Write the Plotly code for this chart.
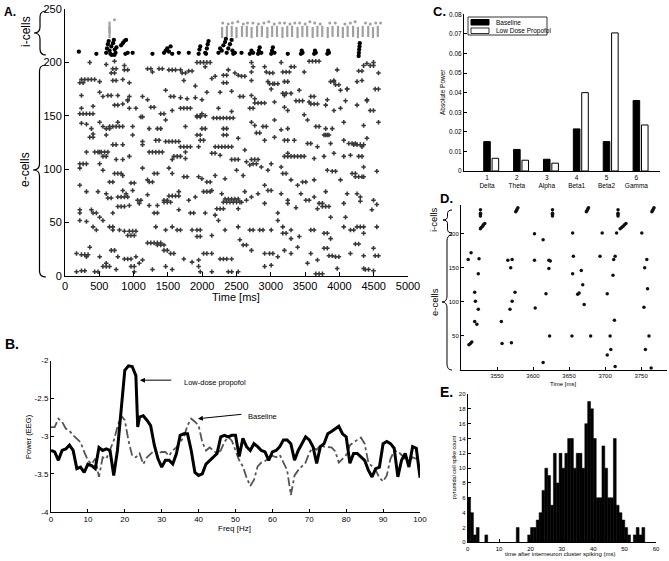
import plotly.graph_objects as go

W, H = 669, 561
def px(x): return x / W
def py(y): return 1 - y / H

FONT = "Liberation Sans"

# ---------------- Panel A data ----------------
# each row: [cell index, spike times (ms)...]
e_runs = [
    [200, 361], [198, 601], [201, 722], [194, 697, 745], [190, 674, 722], [197, 866], [193, 866, 914],
    [200, 1924, 1972, 2020, 2068, 2116], [193, 1684], [190, 1708, 1756], [194, 1203, 1251], [191, 1275],
    [194, 1371, 1419], [193, 1515], [193, 1563, 1611], [192, 1804, 1852], [196, 2044], [187, 2189],
    [188, 2309, 2357], [193, 2381], [190, 2477], [187, 2573, 2621], [200, 2718], [196, 2742], [191, 2718],
    [196, 2910], [191, 2934], [190, 2982, 3030], [200, 3151], [191, 3175], [191, 3223, 3271], [196, 3295, 3343],
    [191, 3487], [201, 3559, 3607, 3655, 3703], [193, 3968], [192, 4281, 4329], [197, 4353], [199, 4401],
    [197, 4449, 4497], [200, 4497], [190, 4570],
    [184, 240, 288, 336, 384, 432], [181, 216, 264], [182, 505], [183, 697, 745], [184, 842], [181, 938],
    [183, 1732], [178, 1900], [185, 2140], [181, 2309, 2357], [188, 2525], [183, 2718], [182, 2958],
    [180, 2982, 3030], [180, 3054, 3102], [182, 3199, 3247], [182, 3872, 3920], [183, 3920], [179, 3944, 3992],
    [175, 4113], [182, 4257], [183, 4329],
    [169, 240], [172, 505], [168, 553], [169, 625, 673], [169, 770], [165, 914], [168, 938], [168, 1130],
    [165, 1203], [174, 1467], [168, 1539, 1587], [167, 1684], [166, 1780], [167, 1900], [165, 1996],
    [172, 2068], [172, 2261], [173, 2429], [168, 2549, 2597], [169, 2718], [166, 2766], [175, 3006],
    [171, 3175, 3223], [169, 3199], [171, 3295], [174, 3415], [168, 3583, 3631], [165, 3824], [174, 4016],
    [175, 4113], [165, 4401], [175, 4521, 4569],
    [157, 240], [159, 409], [160, 722, 770], [161, 842], [164, 914], [157, 938], [157, 1034], [149, 1130],
    [158, 1251, 1299], [152, 1395, 1443], [155, 1563], [157, 1684, 1732, 1780, 1828], [150, 1924, 1972],
    [152, 1996], [150, 2044], [154, 2429], [157, 2237], [157, 2694, 2742], [162, 2766, 2814, 2862, 2910],
    [163, 3054], [158, 3199], [155, 3247], [164, 3367, 3415, 3463], [163, 3559], [161, 3583, 3631, 3680],
    [160, 3800], [155, 3920], [157, 4016], [164, 4089], [160, 4257], [164, 4401], [155, 4449, 4497],
    [152, 216, 264, 312, 360, 408], [143, 240], [142, 313], [138, 385], [144, 505], [140, 553],
    [138, 601, 649], [140, 649, 697, 745, 793, 841], [144, 770], [140, 986], [149, 1106], [138, 1227],
    [138, 1347, 1395], [146, 1467], [140, 1756], [149, 1924, 1972], [148, 2164, 2212, 2260, 2308, 2356, 2404, 2452],
    [138, 1996, 2044], [138, 2309, 2357], [132, 2309, 2357], [144, 2718], [141, 2766], [140, 2886, 2934],
    [146, 3054], [137, 3151], [138, 3247], [151, 3487], [146, 3535], [140, 3656, 3704], [138, 3800],
    [132, 3800, 3848], [138, 3896], [144, 4064], [141, 4353], [144, 4570],
    [130, 361, 409], [133, 409], [116, 505], [132, 601], [123, 697, 745], [123, 842], [132, 986], [123, 1130],
    [126, 1130], [127, 1323, 1371], [126, 1467, 1515, 1563, 1611, 1659], [121, 1684, 1732, 1780, 1828],
    [116, 1756], [132, 1924, 1972], [127, 1972, 2020], [121, 2189, 2237, 2285, 2333, 2381, 2429], [113, 2261],
    [129, 2525], [118, 2621], [134, 2790, 2838], [127, 2910], [130, 3054], [127, 3199, 3247], [127, 3343],
    [124, 3535, 3583], [121, 3680], [132, 3776, 3824], [124, 3872], [127, 4064], [124, 4137, 4185, 4233],
    [123, 4209, 4257, 4305, 4353], [121, 4329], [129, 4401],
    [116, 313], [116, 433, 481, 529, 577, 625], [112, 553], [112, 601], [109, 746], [109, 842], [112, 938],
    [116, 1227, 1275, 1323, 1371, 1419], [109, 1563], [112, 1587, 1635, 1683], [110, 1756], [121, 1948],
    [115, 2140, 2188], [109, 2429], [109, 2477, 2525], [107, 2645], [109, 2718, 2766], [109, 2814], [105, 3006],
    [112, 3199], [115, 3247], [112, 3247, 3295, 3343, 3391, 3439, 3487], [110, 3632], [112, 3776], [115, 3920],
    [112, 4064], [113, 4161], [112, 4281, 4329],
    [105, 216, 264, 312], [101, 216], [105, 505], [99, 553], [96, 722, 770, 818], [88, 649, 697], [94, 842],
    [87, 962, 1010], [101, 1130], [90, 1203], [96, 1299, 1347], [88, 1227, 1275], [101, 1515], [96, 1563],
    [93, 1732, 1780], [93, 1948], [91, 1996], [88, 2068, 2116], [94, 2189], [91, 2333], [99, 2501], [94, 2597],
    [104, 2694], [105, 2742, 2790], [102, 2862], [99, 2958], [102, 3151], [96, 3175, 3223], [90, 3295],
    [88, 3463, 3511], [90, 3632], [99, 3824], [98, 3896, 3944], [90, 4016], [96, 4185, 4233],
    [93, 4233, 4281, 4329], [102, 4353], [93, 4353], [98, 4545],
    [85, 216], [79, 313], [79, 481], [77, 601], [73, 625, 673], [74, 770, 818, 866, 914], [80, 842], [77, 890],
    [80, 986], [71, 1058, 1106], [76, 1203], [66, 1347], [71, 1443, 1491], [75, 1515, 1563, 1611, 1659],
    [79, 1659], [71, 1804], [74, 1900], [79, 2020, 2068, 2116], [80, 2140], [77, 2285],
    [72, 2333, 2381, 2429, 2477, 2525], [69, 2573], [79, 2621], [74, 2718], [77, 2814], [85, 2910],
    [80, 2958, 3006], [77, 3151], [71, 3247], [85, 3391], [77, 3439], [74, 3632], [68, 3704, 3752], [79, 3800],
    [77, 4113], [77, 4257], [74, 4305], [71, 4497],
    [62, 216], [59, 216], [62, 385], [59, 409, 457], [55, 505], [59, 697], [65, 770, 818, 866], [66, 938],
    [68, 1082], [66, 1227], [59, 1299, 1347], [69, 1443, 1491, 1539], [62, 1659], [59, 1828, 1876], [59, 2044],
    [57, 2189], [63, 2213, 2261, 2309], [69, 2309, 2357, 2405, 2453, 2501, 2549], [63, 2525], [71, 2645],
    [68, 2910], [59, 3102], [68, 3247], [64, 3367], [71, 3511, 3559], [63, 3680], [65, 3752, 3800, 3848],
    [55, 3872], [68, 4064], [55, 4089], [70, 4305], [62, 4473], [67, 4545],
    [52, 216], [51, 313], [46, 409], [43, 457], [52, 553], [46, 649, 697], [43, 697], [43, 794], [42, 866],
    [42, 938, 986, 1034], [38, 914, 962, 1010], [46, 1323], [43, 1467], [46, 1563], [43, 1635, 1683],
    [43, 1852], [43, 1924, 1972], [37, 1924, 1972], [38, 2140], [52, 2237], [43, 2333], [46, 2525], [34, 2549],
    [43, 2694, 2742], [43, 2838, 2886], [43, 3006], [52, 3102], [46, 3175], [40, 3175, 3223], [43, 3295],
    [35, 3295], [37, 3415], [43, 3583, 3631], [40, 3776, 3824], [35, 3872], [46, 4064], [43, 4161, 4209],
    [46, 4257, 4305, 4353], [40, 4353], [46, 4545],
    [21, 168], [20, 240, 288, 336], [18, 313], [27, 361], [18, 505], [12, 601], [24, 674, 722], [18, 770],
    [16, 866, 914, 962], [18, 1034], [15, 1130], [31, 1203, 1251, 1299, 1347, 1395], [29, 1347, 1395, 1443],
    [24, 1443, 1491], [21, 1539, 1587], [16, 1732], [13, 1852], [15, 1948], [21, 2020, 2068], [21, 2140],
    [16, 2261], [16, 2309, 2357], [16, 2429], [29, 2597, 2645], [24, 2718], [21, 2910], [21, 2982, 3030],
    [18, 3102], [24, 3199], [21, 3295], [27, 3391], [21, 3583], [15, 3680], [26, 3776, 3824], [19, 3848, 3896],
    [18, 3944, 3992], [21, 4161], [30, 4233, 4281], [19, 4353], [26, 4497], [19, 4521, 4569],
    [4, 168], [5, 240, 288], [4, 433, 481], [9, 553, 601, 649], [6, 746], [9, 962, 1010], [4, 1010], [12, 1082],
    [6, 1275], [9, 1467], [6, 1563], [9, 1948], [4, 1972], [4, 2140], [4, 2381, 2429], [4, 2525], [9, 2910],
    [10, 3006], [12, 3535], [2, 3656, 3704, 3752], [7, 3968], [7, 4353], [6, 4377, 4425], [5, 4497],
]

# interneuron (i-cell) spikes, black clusters: (time ms, cell)
i_black = [
    (202, 210), (457, 208), (600, 209), (612, 213), (625, 217), (637, 220), (650, 211), (662, 208), (675, 215),
    (680, 207), (700, 218), (712, 221), (720, 207), (725, 212), (737, 209), (750, 214),
    (818, 216), (842, 218), (866, 220), (880, 208), (890, 221), (914, 209),
    (986, 209), (1275, 208), (1443, 209), (1467, 211), (1491, 213), (1515, 210), (1539, 215), (1563, 208),
    (1659, 209), (1804, 209), (1948, 208), (1960, 212), (1972, 215), (2044, 209), (2056, 208), (2068, 213),
    (2080, 217), (2092, 220),
    (2237, 209), (2261, 213), (2285, 211), (2309, 216), (2333, 219), (2345, 222), (2357, 209), (2381, 213),
    (2405, 217), (2429, 221), (2441, 211), (2453, 208), (2477, 209),
    (2573, 209), (2694, 208), (2718, 211), (2742, 209), (2814, 208), (2826, 211), (2838, 214), (2862, 209),
    (3006, 208), (3018, 211), (3030, 214), (3054, 209), (3247, 208), (3439, 208), (3451, 211), (3463, 209),
    (3632, 208), (3644, 211), (3656, 209), (3824, 208), (3836, 211), (3848, 209),
    (4281, 206), (4284, 209), (4288, 212), (4293, 215), (4297, 218),
]
# interneuron grey streaks (time ms, centre cell)
i_gray = [
    (649, 228), (649, 233),
    (2290, 228), (2360, 229), (2430, 229), (2500, 228), (2580, 229), (2650, 229), (2720, 228), (2800, 229),
    (2870, 229), (2950, 228), (3020, 229), (3090, 229), (3170, 228), (3240, 229), (3310, 229), (3390, 228),
    (3460, 229), (3530, 229), (3610, 228), (3680, 229), (3750, 229), (3830, 228), (3900, 229), (3980, 229),
    (4050, 228), (4120, 229), (4200, 229), (4270, 228), (4340, 229), (4420, 229), (4490, 228), (4560, 229),
]
i_gray_top = [
    (722, 240), (2300, 237), (2380, 236), (2440, 237), (2520, 238), (2600, 236), (2660, 237), (2740, 237),
    (2820, 236), (2900, 237), (2970, 238), (3050, 236), (3130, 237), (3200, 237), (3280, 236), (3350, 237),
    (3420, 237), (3500, 236), (3570, 238), (3640, 237), (3720, 236), (3860, 237), (3940, 237), (4080, 236),
    (4160, 237), (4230, 238), (4380, 237), (4450, 236), (4530, 237), (4600, 237),
]

# ---------------- Panel B data ----------------
freq_prop = [0, 1, 2, 3, 4, 5, 6, 7, 8, 9, 10, 11, 12, 13, 14, 15, 16, 17, 18, 19, 20, 21, 22, 23, 23.5, 24,
             25, 26, 27, 28, 29, 30, 31, 32, 33, 34, 35, 36, 37, 38, 39, 40, 41, 42, 43, 44, 45, 46, 47, 48,
             49, 50, 51, 52, 53, 54, 55, 56, 57, 58, 59, 60, 61, 62, 63, 64, 65, 66, 67, 68, 69, 70, 71, 72,
             73, 74, 75, 76, 77, 78, 79, 80, 81, 82, 83, 84, 85, 86, 87, 88, 89, 90, 91, 92, 93, 94, 95, 96,
             97, 98, 99, 100]
power_prop = [-3.19, -3.21, -3.32, -3.19, -3.17, -3.12, -3.19, -3.43, -3.41, -3.48, -3.37, -3.39, -3.43, -3.15,
              -3.19, -3.17, -3.19, -3.52, -3.19, -2.62, -2.13, -2.07, -2.08, -2.2, -2.88, -2.75, -2.73, -2.79,
              -2.86, -3.12, -3.3, -3.41, -3.32, -3.32, -3.37, -3.23, -2.99, -2.97, -2.97, -3.19, -3.48, -3.52,
              -3.5, -3.37, -3.32, -3.28, -3.23, -3.01, -2.99, -3.01, -2.99, -2.99, -3.27, -3.03, -3.14, -3.19,
              -3.1, -3.14, -3.19, -3.21, -3.32, -3.21, -3.19, -3.14, -3.05, -3.05, -3.1, -3.32, -3.19, -3.1,
              -3.01, -3.05, -3.14, -3.36, -3.14, -3.1, -2.97, -2.94, -2.9, -2.87, -2.97, -3.01, -3.36, -3.23,
              -3.23, -3.27, -3.32, -3.45, -3.54, -3.43, -3.41, -3.1, -3.07, -3.1, -3.16, -3.54, -3.32, -3.23,
              -3.41, -3.14, -3.16, -3.55]
freq_base = [0, 1, 2, 3, 4, 5, 6, 7, 8, 9, 10, 11, 12, 13, 14, 15, 16, 17, 18, 19, 20, 21, 22, 23, 24, 25,
             26, 27, 28, 29, 30, 31, 32, 33, 34, 35, 36, 37, 38, 39, 40, 41, 42, 43, 44, 45, 46, 47, 48, 49,
             50, 51, 52, 53, 54, 55, 56, 57, 58, 59, 60, 61, 62, 63, 64, 65, 66, 67, 68, 69, 70, 71, 72, 73,
             74, 75, 76, 77, 78, 79, 80, 81, 82, 83, 84, 85, 86, 87, 88, 89, 90, 91, 92, 93, 94, 95, 96, 97,
             98, 99, 100]
power_base = [-2.88, -2.88, -2.77, -2.81, -2.9, -2.93, -2.99, -3.03, -3.08, -3.21, -3.32, -3.37, -3.3, -3.54,
              -3.28, -3.3, -3.19, -3.06, -2.88, -2.73, -2.79, -3.06, -3.26, -3.28, -3.23, -3.37, -3.28, -3.23,
              -3.19, -3.23, -3.21, -3.21, -3.26, -3.19, -3.15, -3.08, -3.01, -2.86, -2.77, -2.81, -2.86, -3.08,
              -3.19, -3.15, -3.19, -3.23, -3.19, -3.08, -3.01, -3.06, -3.19, -3.32, -3.4, -3.55, -3.66, -3.58,
              -3.4, -3.35, -3.33, -3.3, -3.26, -3.28, -3.25, -3.35, -3.45, -3.78, -3.52, -3.45, -3.4, -3.35,
              -3.22, -3.15, -3.18, -3.12, -3.14, -3.15, -3.15, -3.2, -3.35, -3.3, -3.25, -3.12, -3.08, -3.05,
              -3.02, -3.1, -3.35, -3.4, -3.45, -3.55, -3.6, -3.52, -3.3, -3.2, -3.2, -3.25, -3.3, -3.35, -3.28,
              -3.3, -3.3]

# ---------------- Panel C data ----------------
band_idx = [1, 2, 3, 4, 5, 6]
band_names = ["Delta", "Theta", "Alpha", "Beta1", "Beta2", "Gamma"]
power_baseline = [0.015, 0.011, 0.006, 0.0215, 0.015, 0.036]
power_propofol = [0.0065, 0.0055, 0.004, 0.040, 0.0705, 0.0235]

# ---------------- Panel D data ----------------
d_e_spikes = [
    (3511, 37), (3513, 39), (3515, 41), (3510, 162), (3514, 172), (3519, 114), (3520, 101), (3524, 89),
    (3525, 163), (3524, 141), (3519, 71), (3522, 67), (3556, 71), (3557, 39), (3565, 161), (3569, 150),
    (3571, 162), (3568, 89), (3571, 101), (3570, 40), (3575, 114), (3602, 200), (3602, 161), (3603, 91),
    (3614, 191), (3614, 11), (3618, 112), (3622, 161), (3624, 160), (3622, 149), (3623, 50), (3655, 201),
    (3656, 167), (3655, 141), (3654, 50), (3662, 111), (3664, 113), (3667, 146), (3669, 125), (3671, 96),
    (3680, 50), (3693, 167), (3696, 201), (3703, 112), (3703, 22), (3707, 50), (3708, 30), (3711, 139),
    (3712, 162), (3714, 167), (3713, 73), (3714, 5), (3716, 201), (3751, 201), (3755, 150), (3754, 92),
    (3756, 30), (3758, 162), (3759, 119), (3761, 50), (3764, 3),
]
d_i_spikes = [
    (3527, 207), (3528, 209), (3530, 211), (3531, 213), (3533, 215),
    (3721, 207), (3723, 209), (3725, 211), (3727, 213), (3729, 215),
    (3527, 226), (3527, 228), (3527, 230), (3527, 235),
    (3576, 232), (3577, 234), (3578, 236), (3579, 238),
    (3627, 226), (3627, 228), (3627, 230), (3627, 235),
    (3674, 232), (3675, 234), (3676, 236), (3677, 238),
    (3718, 226), (3718, 228), (3718, 230), (3718, 235),
    (3765, 232), (3766, 234), (3767, 236), (3768, 238),
]

# ---------------- Panel E data ----------------
e_bin_centre = [0.46, 1.37, 2.28, 3.19, 5.92, 15.93, 19.57, 20.48, 21.39, 22.3, 23.21, 24.12, 25.03, 25.94,
                26.85, 27.76, 28.67, 29.58, 30.49, 31.4, 32.31, 33.22, 34.13, 35.04, 35.95, 36.86, 37.77,
                38.68, 39.59, 40.5, 41.41, 42.32, 43.23, 44.14, 45.05, 45.96, 46.87, 47.78, 48.69, 49.6,
                50.51, 51.42, 53.24, 54.15, 55.06, 55.97]
e_counts = [6, 4, 1, 2, 1, 2, 1, 2, 2, 3, 4, 7, 10, 9, 5, 12, 8, 12, 10, 12, 14, 14, 10, 12, 12, 10, 16,
            19, 18, 14, 6, 6, 13, 10, 6, 6, 14, 5, 4, 3, 2, 1, 1, 2, 1, 2]
E_BIN_WIDTH = 0.91

# ---------------- Build figure ----------------
e_t, e_c = [], []
for row in e_runs:
    for t in row[1:]:
        e_t.append(t)
        e_c.append(row[0])

fig = go.Figure()

# Panel A
fig.add_trace(go.Scatter(x=e_t, y=e_c, mode="markers", xaxis="x", yaxis="y", cliponaxis=False,
                         marker=dict(symbol="cross", size=3.8, color="#383838", line=dict(width=0))))
fig.add_trace(go.Scatter(x=[p[0] for p in i_gray], y=[p[1] for p in i_gray], mode="markers",
                         xaxis="x", yaxis="y", cliponaxis=False,
                         marker=dict(symbol="line-ns", size=8, line=dict(width=2.2, color="#a0a0a0"))))
fig.add_trace(go.Scatter(x=[p[0] for p in i_gray_top], y=[p[1] for p in i_gray_top], mode="markers",
                         xaxis="x", yaxis="y", cliponaxis=False,
                         marker=dict(symbol="circle", size=3, color="#a0a0a0")))
fig.add_trace(go.Scatter(x=[p[0] for p in i_black], y=[p[1] for p in i_black], mode="markers",
                         xaxis="x", yaxis="y", cliponaxis=False,
                         marker=dict(symbol="circle", size=4.3, color="#000000")))

# Panel B
fig.add_trace(go.Scatter(x=freq_base, y=power_base, mode="lines", xaxis="x2", yaxis="y2",
                         line=dict(color="#555555", width=1.8, dash="dashdot")))
fig.add_trace(go.Scatter(x=freq_prop, y=power_prop, mode="lines", xaxis="x2", yaxis="y2",
                         line=dict(color="#000000", width=3)))

# Panel C
fig.add_trace(go.Bar(x=band_idx, y=power_baseline, xaxis="x3", yaxis="y3", width=0.22, offset=-0.11,
                     marker=dict(color="#000000", line=dict(color="#000000", width=1)), name="Baseline"))
fig.add_trace(go.Bar(x=band_idx, y=power_propofol, xaxis="x3", yaxis="y3", width=0.22, offset=0.17,
                     marker=dict(color="#ffffff", line=dict(color="#000000", width=1)), name="Low Dose Propofol"))

# Panel D
fig.add_trace(go.Scatter(x=[p[0] for p in d_e_spikes], y=[p[1] for p in d_e_spikes], mode="markers",
                         xaxis="x4", yaxis="y4", cliponaxis=False,
                         marker=dict(symbol="circle", size=3.5, color="#111111")))
fig.add_trace(go.Scatter(x=[p[0] for p in d_i_spikes], y=[p[1] for p in d_i_spikes], mode="markers",
                         xaxis="x4", yaxis="y4", cliponaxis=False,
                         marker=dict(symbol="circle", size=3.5, color="#111111")))

# Panel E
fig.add_trace(go.Bar(x=e_bin_centre, y=e_counts, xaxis="x5", yaxis="y5", width=E_BIN_WIDTH,
                     marker=dict(color="#000000", line=dict(color="#000000", width=0.5))))

def ax(domain, rng, fs, **kw):
    d = dict(domain=domain, range=rng, showline=True, linecolor="#000", linewidth=1, ticks="inside",
             ticklen=3, tickcolor="#000", showgrid=False, zeroline=False, mirror=False, automargin=False,
             tickfont=dict(family=FONT, size=fs, color="#000"))
    d.update(kw)
    return d

fig.update_layout(
    template="none",
    width=W, height=H, margin=dict(l=0, r=0, t=0, b=0, pad=0), showlegend=False,
    paper_bgcolor="white", plot_bgcolor="rgba(0,0,0,0)", barmode="overlay", bargap=0,
    font=dict(family=FONT, color="#000"),
    xaxis=ax([px(65), px(408)], [0, 5000], 11, anchor="y", dtick=500, ticklen=4),
    yaxis=ax([py(276), py(9)], [0, 250], 11, anchor="x", dtick=50, ticklen=4),
    xaxis2=ax([px(51), px(420)], [0, 100], 8, anchor="y2", dtick=10),
    yaxis2=ax([py(511.7), py(360.5)], [-4, -2], 8, anchor="x2", tickvals=[-4, -3.5, -3, -2.5, -2],
              ticktext=["-4", "-3.5", "-3", "-2.5", "-2"]),
    xaxis3=ax([px(464), px(660)], [0.23, 6.79], 6.5, anchor="y3", tickvals=band_idx,
              ticktext=[f"{i}<br>{n}" for i, n in zip(band_idx, band_names)]),
    yaxis3=ax([py(171), py(14.3)], [0, 0.08], 6.5, anchor="x3",
              tickvals=[0, 0.01, 0.02, 0.03, 0.04, 0.05, 0.06, 0.07, 0.08],
              ticktext=["0", "0.01", "0.02", "0.03", "0.04", "0.05", "0.06", "0.07", "0.08"]),
    xaxis4=ax([px(461), px(667)], [3500, 3786], 6, anchor="y4", tickvals=[3550, 3600, 3650, 3700, 3750]),
    yaxis4=ax([py(370), py(205)], [0, 242], 6, anchor="x4", tickvals=[50, 100, 150, 200]),
    xaxis5=ax([px(467.7), px(656)], [0, 60], 6, anchor="y5", dtick=10),
    yaxis5=ax([py(542.3), py(394)], [0, 20], 6, anchor="x5", dtick=2),
)

ann = []
def text(x, y, s, size, angle=0, bold=False, xanchor="center", yanchor="middle", color="#000"):
    ann.append(dict(x=px(x), y=py(y), xref="paper", yref="paper", text=f"<b>{s}</b>" if bold else s,
                    showarrow=False, textangle=angle, xanchor=xanchor, yanchor=yanchor,
                    font=dict(family=FONT, size=size, color=color)))

# panel letters
text(2, 12, "A.", 12, bold=True, xanchor="left")
text(3, 344, "B.", 14, bold=True, xanchor="left")
text(431, 12, "C.", 13, bold=True, xanchor="left")
text(438, 198, "D.", 13, bold=True, xanchor="left")
text(438, 392, "E.", 14, bold=True, xanchor="left")

# axis titles
text(236, 297, "Time [ms]", 11)
text(26, 31, "i-cells", 12, angle=-90)
text(25, 170, "e-cells", 12, angle=-90)
text(28, 437, "Power (EEG)", 7.5, angle=-90)
text(234, 528, "Freq [Hz]", 8)
text(442, 92, "Absolute Power", 6.5, angle=-90)
text(563, 384, "Time [ms]", 6)
text(434, 220, "i-cells", 9.5, angle=-90)
text(434, 302, "e-cells", 9.5, angle=-90)
text(454, 468, "pyramidal cell spike count", 5.5, angle=-90)
text(560, 554, "time after interneuron cluster spiking (ms)", 6)

# panel B labels + arrows
text(182, 382, "Low-dose propofol", 7.5, xanchor="left")
text(246, 416, "Baseline", 7.5, xanchor="left")
ann.append(dict(x=24.1, y=-2.26, ax=33.0, ay=-2.26, xref="x2", yref="y2", axref="x2", ayref="y2",
                text="", showarrow=True, arrowhead=2, arrowsize=1, arrowwidth=1, arrowcolor="#000"))
ann.append(dict(x=39.8, y=-2.77, ax=52.0, ay=-2.71, xref="x2", yref="y2", axref="x2", ayref="y2",
                text="", showarrow=True, arrowhead=2, arrowsize=1, arrowwidth=1, arrowcolor="#000"))

# legend of panel C (drawn)
text(494, 22.5, "Baseline", 6.5, xanchor="left")
text(494, 31, "Low Dose Propofol", 6.5, xanchor="left")

shapes = []
def rect(x0, y0, x1, y1, fill, lw=1):
    shapes.append(dict(type="rect", xref="paper", yref="paper", x0=px(x0), x1=px(x1), y0=py(y1), y1=py(y0),
                       line=dict(color="#000", width=lw), fillcolor=fill))
rect(468, 17, 547, 35, "white", 0.8)
rect(471, 19.5, 489, 25, "#000")
rect(471, 28, 489, 33.5, "white", 0.8)

def brace(xr, ytop, ybot, xtip, ytip, lw=1.2):
    xm = (xr + xtip) / 2
    r = min(6, (ybot - ytop) / 6)
    pts = [("M", xr, ytop), ("Q", xm, ytop, xm, ytop + r), ("L", xm, ytip - r),
           ("Q", xm, ytip, xtip, ytip), ("Q", xm, ytip, xm, ytip + r), ("L", xm, ybot - r),
           ("Q", xm, ybot, xr, ybot)]
    s = ""
    for p in pts:
        cmd = p[0]
        coords = p[1:]
        parts = []
        for i in range(0, len(coords), 2):
            parts.append(f"{px(coords[i]):.5f},{py(coords[i + 1]):.5f}")
        s += cmd + " " + " ".join(parts) + " "
    shapes.append(dict(type="path", xref="paper", yref="paper", path=s.strip(),
                       line=dict(color="#000", width=lw)))

brace(46, 11, 55, 34, 33)
brace(46, 65, 277, 33, 170)
brace(452, 210, 233, 443, 220, 1)
brace(452, 235, 370, 442, 302, 1)

fig.update_layout(annotations=ann, shapes=shapes)
fig.write_html("out.html", config={"displayModeBar": False, "staticPlot": True},
               post_script="document.body.style.margin='0px';document.body.style.overflow='hidden';")
